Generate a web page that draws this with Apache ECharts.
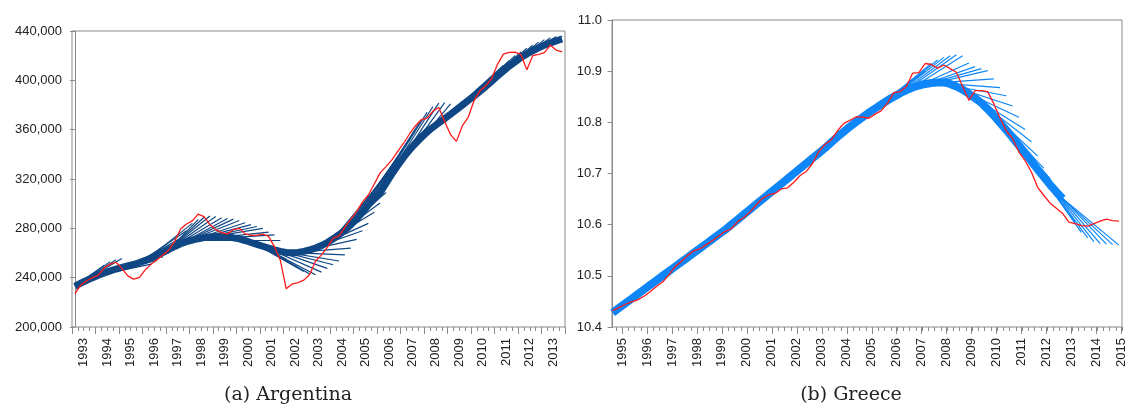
<!DOCTYPE html>
<html>
<head>
<meta charset="utf-8">
<script src="https://cdn.jsdelivr.net/npm/echarts@6/dist/echarts.min.js"></script>
<style>
    html, body { margin: 0; padding: 0; background: #fff; }
    #chart { width: 1128px; height: 410px; }
</style>
</head>
<body>
<div id="chart"></div>
<script>
// ---- Argentina, quarterly 1993Q1 - 2013Q4 ----
var argYears = [1993, 1994, 1995, 1996, 1997, 1998, 1999, 2000, 2001, 2002, 2003,
    2004, 2005, 2006, 2007, 2008, 2009, 2010, 2011, 2012, 2013];
var argYTicks = [200000, 240000, 280000, 320000, 360000, 400000, 440000];
// actual series (red)
var argActual = [
    227000, 234000, 237500, 240000, 242000, 248000, 251000, 252500, 247500, 241500,
    238800, 240300, 246500, 251000, 254500, 258500, 262500, 269500, 279500, 283500,
    286000, 291500, 289500, 283000, 279000, 276500, 275300, 279000, 280000, 275500,
    274200, 274500, 275300, 273500, 265000, 254000, 231000, 234800, 236000, 238000,
    242500, 253500, 258500, 264500, 272000, 273800, 281000, 287500, 293500, 301500,
    307000, 316000, 325000, 330000, 335500, 342300, 349000, 356500, 363000, 368000,
    369300, 375000, 378000, 366500, 356000, 350500, 363000, 370000, 383500, 391500,
    395500, 401500, 413000, 421200, 422600, 422900, 420800, 408500, 420000, 421000,
    422500, 428500, 424500, 423000
];
// trend band (blue)
var argTrend = [
    233000, 235500, 237800, 240000, 242000, 243800, 245500, 247000, 248300, 249500,
    250700, 252300, 254000, 256000, 258000, 260500, 263000, 265300, 267500, 269200,
    270500, 271600, 272500, 273000, 273300, 273200, 273000, 272300, 271500, 270100,
    268500, 267000, 265500, 264000, 262500, 261300, 260500, 260300, 260500, 261300,
    262500, 264000, 266000, 268500, 271500, 274800, 278500, 282800, 287500, 293000,
    299000, 304000, 309000, 316500, 324000, 331000, 337500, 343500, 349000, 354000,
    358500, 362000, 365500, 369000, 372500, 376200, 379900, 383600, 387200, 391000,
    395000, 399200, 403500, 407500, 411500, 415000, 418500, 421300, 424000, 426300,
    428500, 430300, 432000, 433500
];
// fan lines: leave the trend at quarter "from", end at quarter "to" with value "end"
var argFanFrom = [0, 0, 0, 0, 4, 5, 6, 7, 8, 10, 11, 12,
    16, 16, 16, 16, 16, 18, 18, 18, 18, 20, 20, 20, 20, 20, 20,
    31, 31, 31, 31, 31, 31, 32, 33, 34, 35, 36, 37, 38, 39, 40, 41, 42, 43,
    44, 45, 46, 47, 48, 49, 50, 51, 52, 53, 54, 55,
    56, 57, 58, 59, 60, 61, 62,
    63, 64, 65, 66, 67, 68, 69, 70, 71, 72, 73];
var argFanTo = [5, 6, 7, 8, 13, 14, 15, 16, 17, 18, 19, 20,
    21, 22, 23, 24, 25, 26, 27, 28, 29, 30, 31, 32, 33, 34, 35,
    36, 37, 38, 39, 40, 41, 42, 43, 44, 45, 46, 47, 48, 49, 50, 51, 52, 53,
    54, 55, 56, 57, 58, 59, 60, 61, 62, 63, 64, 65,
    66, 67, 68, 69, 70, 71, 72,
    73, 74, 75, 76, 77, 78, 79, 80, 81, 82, 83];
var argFanEnd = [250000, 253000, 254500, 255500, 251000, 254000, 257000, 260000, 263500, 272000, 278000, 284000,
    287000, 289000, 290000, 289500, 288500, 288000, 287500, 286300, 284500, 283000, 281500, 280000, 277000, 274700, 270700,
    255000, 251000, 248000, 245000, 243000, 242300, 244500, 247500, 250500, 253500, 258500, 264000, 271000, 278000, 284000, 293000, 300500, 309000,
    328000, 336000, 344000, 352000, 360000, 368000, 374000, 378800, 381500, 382000, 381000, 379000,
    381000, 384000, 388000, 392000, 396000, 401000, 406000,
    412000, 416000, 420000, 423000, 426000, 428500, 431000, 433000, 434500, 435500, 436000];

// ---- Greece, quarterly (log level) ----
var greYears = [1995, 1996, 1997, 1998, 1999, 2000, 2001, 2002, 2003, 2004, 2005,
    2006, 2007, 2008, 2009, 2010, 2011, 2012, 2013, 2014, 2015];
var greYTicks = [10.4, 10.5, 10.6, 10.7, 10.8, 10.9, 11.0];
var greActual = [
    10.432, 10.438, 10.444, 10.449, 10.453, 10.460, 10.469, 10.479, 10.488, 10.502,
    10.518, 10.528, 10.540, 10.549, 10.553, 10.561, 10.569, 10.578, 10.587, 10.592,
    10.606, 10.614, 10.625, 10.639, 10.652, 10.658, 10.661, 10.670, 10.672, 10.683,
    10.696, 10.704, 10.720, 10.743, 10.757, 10.766, 10.784, 10.798, 10.804, 10.811,
    10.810, 10.808, 10.816, 10.823, 10.838, 10.858, 10.860, 10.870, 10.896, 10.897,
    10.915, 10.913, 10.906, 10.912, 10.905, 10.898, 10.870, 10.843, 10.862, 10.862,
    10.860, 10.836, 10.808, 10.783, 10.768, 10.742, 10.725, 10.703, 10.673, 10.657,
    10.642, 10.632, 10.622, 10.605, 10.602, 10.598, 10.597, 10.602, 10.607, 10.611,
    10.608, 10.607
];
var greTrend = [
    10.428, 10.437, 10.446, 10.455, 10.464, 10.473, 10.482, 10.491, 10.500, 10.509,
    10.518, 10.527, 10.536, 10.545, 10.554, 10.563, 10.572, 10.581, 10.590, 10.600,
    10.610, 10.620, 10.630, 10.640, 10.650, 10.660, 10.670, 10.680, 10.690, 10.700,
    10.710, 10.720, 10.730, 10.740, 10.750, 10.761, 10.772, 10.782, 10.792, 10.801,
    10.810, 10.819, 10.827, 10.835, 10.843, 10.850, 10.857, 10.863, 10.868, 10.872,
    10.875, 10.877, 10.878, 10.878, 10.875, 10.870, 10.864, 10.856, 10.847, 10.838,
    10.826, 10.813, 10.799, 10.785, 10.770, 10.755, 10.740, 10.724, 10.708, 10.693,
    10.678, 10.664, 10.651
];
var greFanFrom = [38, 39, 40, 41, 42, 43, 44, 45, 46, 47, 48, 49, 50, 51, 52, 53, 54, 55,
    56, 57, 58, 59, 60, 61, 62, 63, 64, 65, 66, 67, 68, 69, 70, 71, 72, 72];
var greFanTo = [46, 47, 48, 49, 50, 51, 52, 53, 54, 55, 56, 57, 58, 59, 60, 61, 62, 63,
    64, 65, 66, 67, 68, 69, 70, 71, 72, 73, 74, 75, 76, 77, 78, 79, 80, 81];
var greFanEnd = [10.862, 10.872, 10.882, 10.891, 10.900, 10.915, 10.922, 10.927, 10.930, 10.932,
    10.930, 10.916, 10.909, 10.905, 10.901, 10.885, 10.868, 10.852,
    10.832, 10.810, 10.786, 10.762, 10.734, 10.710, 10.690, 10.672, 10.652, 10.630, 10.605,
    10.585, 10.574, 10.567, 10.563, 10.562, 10.561, 10.560];

var ARG_BLUE = '#0E4784';
var GRE_BLUE = '#0F86F7';
var RED = '#FF1A1A';
var AXIS = '#8a8a8a';
var LABEL = { color: '#222', fontFamily: 'Liberation Sans', fontSize: 13 };

function quarterNames(firstYear, firstQ, n) {
    var out = [];
    for (var i = 0; i < n; i++) {
        var q = firstQ - 1 + i;
        out.push((firstYear + Math.floor(q / 4)) + 'Q' + (q % 4 + 1));
    }
    return out;
}

function pairs(values) {
    return values.map(function (v, i) { return [i, v]; });
}

function fanLines(trend, from, to, end) {
    return to.map(function (t, i) {
        return { coords: [[from[i], trend[from[i]]], [t, end[i]]] };
    });
}

var chart = echarts.init(document.getElementById('chart'));

var option = {
    animation: false,
    backgroundColor: '#fff',
    grid: [
        { left: 72, top: 31, width: 493, height: 296, show: true, borderColor: AXIS, borderWidth: 1 },
        { left: 72, top: 31, width: 493, height: 296 },
        { left: 612, top: 20, width: 510, height: 307, show: true, borderColor: AXIS, borderWidth: 1 },
        { left: 622, top: 20, width: 500, height: 307 },
        { left: 616, top: 20, width: 506, height: 307 }
    ],
    xAxis: [
        // Argentina data axis (quarter index)
        { gridIndex: 0, type: 'value', position: 'bottom', min: -0.5, max: argActual.length - 0.5, show: false },
        // Argentina quarter ticks
        {
            gridIndex: 0, type: 'category', position: 'bottom', boundaryGap: true,
            data: quarterNames(argYears[0], 1, argActual.length),
            axisLine: { show: false },
            axisTick: { show: true, interval: 0, length: 4, lineStyle: { color: AXIS } },
            axisLabel: { show: false }
        },
        // Argentina year ticks and labels
        {
            gridIndex: 1, type: 'category', position: 'bottom', boundaryGap: true, data: argYears.map(String),
            axisLine: { show: false },
            axisTick: { show: true, interval: 0, length: 7, lineStyle: { color: AXIS } },
            axisLabel: Object.assign({ rotate: 90, margin: 11, interval: 0 }, LABEL)
        },
        // Greece data axis (quarter index)
        { gridIndex: 2, type: 'value', position: 'bottom', min: -0.1, max: 81.5, show: false },
        // Greece year ticks and labels
        {
            gridIndex: 3, type: 'category', position: 'bottom', boundaryGap: false, data: greYears.map(String),
            axisLine: { show: false },
            axisTick: { show: true, interval: 0, length: 7, lineStyle: { color: AXIS } },
            axisLabel: Object.assign({ rotate: 90, margin: 11, interval: 0 }, LABEL)
        },
        // Greece quarter ticks
        {
            gridIndex: 4, type: 'category', position: 'bottom', boundaryGap: false,
            data: quarterNames(greYears[0] - 1, 4, 82),
            axisLine: { show: false },
            axisTick: { show: true, interval: 0, length: 4, lineStyle: { color: AXIS } },
            axisLabel: { show: false }
        }
    ],
    yAxis: [
        {
            gridIndex: 0, type: 'value',
            min: argYTicks[0], max: argYTicks[argYTicks.length - 1],
            interval: argYTicks[1] - argYTicks[0],
            axisLine: { show: true, lineStyle: { color: AXIS } },
            axisTick: { show: true, length: 5, lineStyle: { color: AXIS } },
            splitLine: { show: false },
            axisLabel: Object.assign({
                margin: 10,
                formatter: function (v) { return v.toLocaleString('en-US'); }
            }, LABEL)
        },
        { gridIndex: 1, type: 'value', show: false },
        {
            gridIndex: 2, type: 'value',
            min: greYTicks[0], max: greYTicks[greYTicks.length - 1],
            interval: 0.1,
            axisLine: { show: true, lineStyle: { color: AXIS } },
            axisTick: { show: true, length: 5, lineStyle: { color: AXIS } },
            splitLine: { show: false },
            axisLabel: Object.assign({
                margin: 10,
                formatter: function (v) { return v.toFixed(1); }
            }, LABEL)
        },
        { gridIndex: 3, type: 'value', show: false },
        { gridIndex: 4, type: 'value', show: false }
    ],
    series: [
        {
            type: 'lines', coordinateSystem: 'cartesian2d', xAxisIndex: 0, yAxisIndex: 0,
            silent: true, data: fanLines(argTrend, argFanFrom, argFanTo, argFanEnd),
            lineStyle: { color: ARG_BLUE, width: 1.2, opacity: 1 }
        },
        {
            type: 'line', xAxisIndex: 0, yAxisIndex: 0, data: pairs(argTrend),
            showSymbol: false, silent: true,
            lineStyle: { color: ARG_BLUE, width: 7 }
        },
        {
            type: 'line', xAxisIndex: 0, yAxisIndex: 0, data: pairs(argActual),
            showSymbol: false, silent: true,
            lineStyle: { color: RED, width: 1.3 }
        },
        {
            type: 'lines', coordinateSystem: 'cartesian2d', xAxisIndex: 3, yAxisIndex: 2,
            silent: true, data: fanLines(greTrend, greFanFrom, greFanTo, greFanEnd),
            lineStyle: { color: GRE_BLUE, width: 1.2, opacity: 1 }
        },
        {
            type: 'line', xAxisIndex: 3, yAxisIndex: 2, data: pairs(greTrend),
            showSymbol: false, silent: true,
            lineStyle: { color: GRE_BLUE, width: 8 }
        },
        {
            type: 'line', xAxisIndex: 3, yAxisIndex: 2, data: pairs(greActual),
            showSymbol: false, silent: true,
            lineStyle: { color: RED, width: 1.3 }
        }
    ],
    graphic: [
        {
            type: 'text',
            style: { x: 288, y: 386, text: '(a) Argentina', textAlign: 'center',
                font: '19px "DejaVu Serif"', fill: '#222' }
        },
        {
            type: 'text',
            style: { x: 851, y: 386, text: '(b) Greece', textAlign: 'center',
                font: '19px "DejaVu Serif"', fill: '#222' }
        }
    ]
};

chart.setOption(option);
</script>
</body>
</html>
